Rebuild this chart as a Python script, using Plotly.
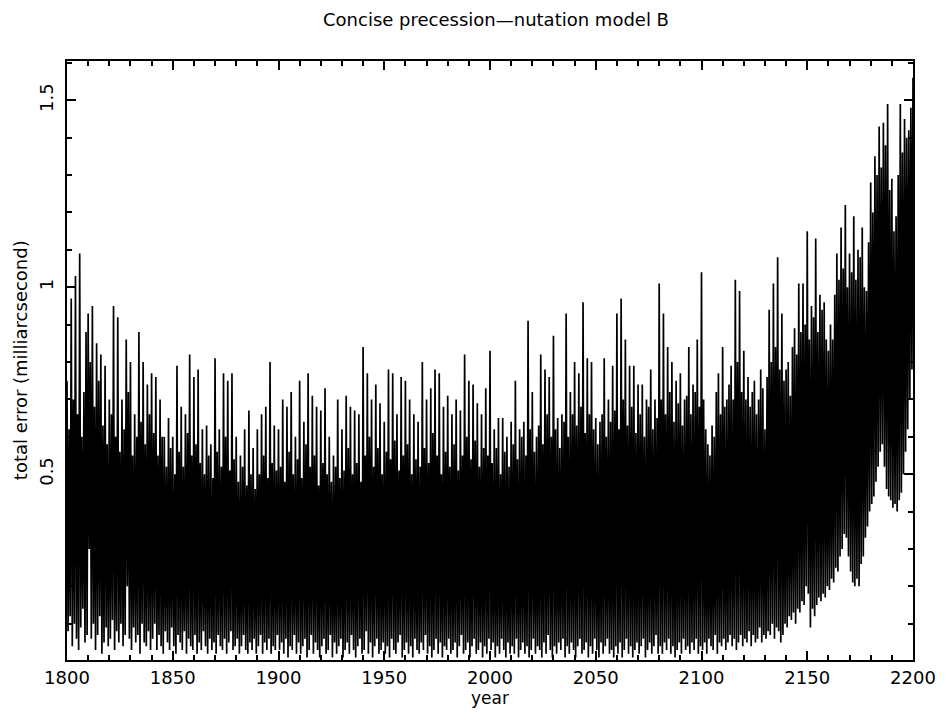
import plotly.graph_objects as go

# spike tops, one per year (1800 ... 2200)
peak_years = list(range(1800, 2201))
peaks = [
    0.75, 0.62, 0.97, 0.70, 1.03, 0.66, 1.09, 0.60, 0.72, 0.88,  # 1800
    0.93, 0.80, 0.95, 0.68, 0.85, 0.75, 0.82, 0.63, 0.79, 0.58,  # 1810
    0.70, 0.66, 0.95, 0.60, 0.92, 0.56, 0.70, 0.62, 0.86, 0.72,  # 1820
    0.80, 0.55, 0.66, 0.60, 0.88, 0.64, 0.80, 0.58, 0.74, 0.66,  # 1830
    0.77, 0.61, 0.76, 0.55, 0.70, 0.60, 0.60, 0.52, 0.65, 0.57,  # 1840
    0.60, 0.50, 0.79, 0.56, 0.68, 0.52, 0.66, 0.61, 0.82, 0.55,  # 1850
    0.76, 0.58, 0.78, 0.53, 0.62, 0.50, 0.63, 0.55, 0.58, 0.49,  # 1860
    0.81, 0.56, 0.62, 0.52, 0.77, 0.60, 0.75, 0.51, 0.77, 0.54,  # 1870
    0.60, 0.48, 0.55, 0.52, 0.62, 0.47, 0.67, 0.50, 0.57, 0.46,  # 1880
    0.62, 0.50, 0.66, 0.55, 0.68, 0.49, 0.80, 0.53, 0.63, 0.51,  # 1890
    0.62, 0.52, 0.70, 0.48, 0.68, 0.56, 0.72, 0.50, 0.60, 0.54,  # 1900
    0.75, 0.49, 0.64, 0.58, 0.77, 0.52, 0.71, 0.55, 0.68, 0.47,  # 1910
    0.67, 0.53, 0.73, 0.50, 0.60, 0.48, 0.55, 0.52, 0.70, 0.49,  # 1920
    0.62, 0.51, 0.71, 0.57, 0.68, 0.50, 0.67, 0.53, 0.66, 0.48,  # 1930
    0.84, 0.55, 0.77, 0.60, 0.70, 0.52, 0.74, 0.57, 0.69, 0.50,  # 1940
    0.64, 0.56, 0.78, 0.54, 0.77, 0.59, 0.66, 0.51, 0.76, 0.55,  # 1950
    0.75, 0.58, 0.70, 0.50, 0.66, 0.54, 0.64, 0.52, 0.80, 0.57,  # 1960
    0.70, 0.53, 0.73, 0.61, 0.78, 0.55, 0.77, 0.50, 0.68, 0.56,  # 1970
    0.71, 0.52, 0.66, 0.58, 0.70, 0.51, 0.67, 0.55, 0.82, 0.60,  # 1980
    0.75, 0.54, 0.74, 0.59, 0.69, 0.52, 0.66, 0.57, 0.73, 0.55,  # 1990
    0.83, 0.53, 0.62, 0.57, 0.65, 0.50, 0.65, 0.56, 0.60, 0.52,  # 2000
    0.64, 0.58, 0.75, 0.54, 0.62, 0.60, 0.64, 0.55, 0.91, 0.62,  # 2010
    0.72, 0.56, 0.60, 0.63, 0.82, 0.58, 0.78, 0.66, 0.76, 0.60,  # 2020
    0.87, 0.62, 0.65, 0.57, 0.66, 0.64, 0.93, 0.60, 0.72, 0.66,  # 2030
    0.80, 0.63, 0.77, 0.68, 0.96, 0.61, 0.81, 0.66, 0.80, 0.62,  # 2040
    0.65, 0.58, 0.64, 0.66, 0.81, 0.60, 0.70, 0.64, 0.79, 0.67,  # 2050
    0.93, 0.62, 0.97, 0.70, 0.86, 0.63, 0.79, 0.68, 0.79, 0.61,  # 2060
    0.74, 0.66, 0.74, 0.60, 0.70, 0.68, 0.78, 0.62, 0.70, 0.65,  # 2070
    1.01, 0.70, 0.93, 0.66, 0.84, 0.72, 0.80, 0.64, 0.75, 0.69,  # 2080
    0.77, 0.63, 0.70, 0.71, 0.84, 0.66, 0.74, 0.72, 0.86, 0.68,  # 2090
    1.04, 0.70, 0.62, 0.58, 0.55, 0.63, 0.60, 0.72, 0.77, 0.66,  # 2100
    0.84, 0.68, 0.70, 0.74, 0.79, 0.70, 1.02, 0.80, 0.99, 0.72,  # 2110
    0.83, 0.70, 0.76, 0.68, 0.72, 0.75, 0.66, 0.70, 0.78, 0.73,  # 2120
    0.62, 0.76, 0.94, 0.80, 1.01, 0.84, 1.08, 0.78, 0.93, 0.75,  # 2130
    0.78, 0.80, 0.71, 0.84, 0.89, 0.82, 1.01, 0.88, 1.01, 0.90,  # 2140
    1.15, 0.86, 0.95, 0.92, 1.13, 0.88, 0.98, 0.94, 0.96, 0.86,  # 2150
    0.83, 0.90, 0.86, 0.98, 1.09, 1.02, 1.16, 1.05, 1.22, 1.00,  # 2160
    1.09, 1.04, 1.19, 1.02, 1.10, 1.08, 1.16, 1.00, 0.99, 1.12,  # 2170
    1.28, 1.20, 1.35, 1.30, 1.43, 1.32, 1.44, 1.38, 1.49, 1.26,  # 2180
    1.29, 1.15, 1.19, 1.30, 1.49, 1.36, 1.45, 1.40, 1.42, 1.48,  # 2190
    1.56,
]

# spike bottoms, half a year later (1800.5 ... 2199.5)
trough_years = [y + 0.5 for y in range(1800, 2200)]
troughs = [
    0.08, 0.12, 0.04, 0.10, 0.06, 0.03, 0.09, 0.14, 0.05, 0.07,  # 1800
    0.30, 0.06, 0.10, 0.03, 0.07, 0.12, 0.02, 0.05, 0.09, 0.04,  # 1810
    0.06, 0.11, 0.03, 0.08, 0.05, 0.10, 0.04, 0.07, 0.20, 0.06,  # 1820
    0.03, 0.09, 0.05, 0.07, 0.02, 0.10, 0.05, 0.04, 0.08, 0.03,  # 1830
    0.06, 0.10, 0.03, 0.07, 0.04, 0.02, 0.08, 0.05, 0.03, 0.09,  # 1840
    0.04, 0.02, 0.07, 0.05, 0.03, 0.08, 0.02, 0.06, 0.04, 0.03,  # 1850
    0.07, 0.02, 0.05, 0.03, 0.08, 0.04, 0.02, 0.06, 0.03, 0.05,  # 1860
    0.02, 0.07, 0.04, 0.03, 0.06, 0.02, 0.05, 0.08, 0.03, 0.04,  # 1870
    0.06, 0.02, 0.04, 0.07, 0.03, 0.02, 0.05, 0.03, 0.06, 0.02,  # 1880
    0.04, 0.07, 0.02, 0.05, 0.03, 0.06, 0.02, 0.04, 0.03, 0.07,  # 1890
    0.03, 0.05, 0.02, 0.06, 0.01, 0.04, 0.03, 0.07, 0.02, 0.05,  # 1900
    0.02, 0.04, 0.06, 0.01, 0.03, 0.07, 0.02, 0.05, 0.03, 0.01,  # 1910
    0.04, 0.06, 0.02, 0.03, 0.07, 0.01, 0.05, 0.02, 0.04, 0.06,  # 1920
    0.01, 0.03, 0.05, 0.02, 0.07, 0.03, 0.01, 0.04, 0.06, 0.02,  # 1930
    0.03, 0.08, 0.02, 0.05, 0.01, 0.04, 0.06, 0.02, 0.03, 0.05,  # 1940
    0.02, 0.04, 0.01, 0.06, 0.03, 0.02, 0.05, 0.07, 0.01, 0.03,  # 1950
    0.05, 0.02, 0.04, 0.01, 0.06, 0.03, 0.02, 0.05, 0.03, 0.07,  # 1960
    0.02, 0.04, 0.01, 0.03, 0.06, 0.02, 0.05, 0.01, 0.04, 0.03,  # 1970
    0.06, 0.02, 0.03, 0.05, 0.01, 0.04, 0.07, 0.02, 0.03, 0.05,  # 1980
    0.01, 0.04, 0.06, 0.02, 0.03, 0.05, 0.01, 0.04, 0.02, 0.06,  # 1990
    0.03, 0.05, 0.01, 0.04, 0.02, 0.06, 0.03, 0.01, 0.05, 0.02,  # 2000
    0.04, 0.02, 0.06, 0.01, 0.03, 0.05, 0.02, 0.04, 0.01, 0.03,  # 2010
    0.06, 0.02, 0.04, 0.03, 0.01, 0.05, 0.02, 0.07, 0.03, 0.01,  # 2020
    0.04, 0.02, 0.05, 0.03, 0.06, 0.01, 0.04, 0.02, 0.05, 0.03,  # 2030
    0.01, 0.04, 0.06, 0.02, 0.03, 0.05, 0.01, 0.04, 0.02, 0.06,  # 2040
    0.03, 0.01, 0.05, 0.02, 0.04, 0.06, 0.02, 0.03, 0.01, 0.04,  # 2050
    0.02, 0.05, 0.01, 0.03, 0.06, 0.02, 0.04, 0.01, 0.03, 0.05,  # 2060
    0.02, 0.04, 0.06, 0.01, 0.03, 0.05, 0.02, 0.04, 0.07, 0.02,  # 2070
    0.04, 0.02, 0.05, 0.03, 0.06, 0.02, 0.04, 0.01, 0.03, 0.05,  # 2080
    0.02, 0.06, 0.03, 0.04, 0.02, 0.05, 0.03, 0.06, 0.02, 0.04,  # 2090
    0.03, 0.05, 0.02, 0.06, 0.04, 0.03, 0.07, 0.02, 0.05, 0.04,  # 2100
    0.06, 0.03, 0.05, 0.07, 0.04, 0.06, 0.03, 0.05, 0.07, 0.04,  # 2110
    0.06, 0.05, 0.08, 0.04, 0.07, 0.05, 0.06, 0.09, 0.05, 0.07,  # 2120
    0.06, 0.08, 0.07, 0.10, 0.06, 0.09, 0.08, 0.05, 0.07, 0.10,  # 2130
    0.09, 0.12, 0.11, 0.13, 0.10, 0.14, 0.13, 0.16, 0.15, 0.20,  # 2140
    0.18, 0.09, 0.14, 0.12, 0.15, 0.17, 0.16, 0.18, 0.17, 0.20,  # 2150
    0.19, 0.22, 0.21, 0.25, 0.24, 0.28, 0.30, 0.34, 0.33, 0.28,  # 2160
    0.24, 0.21, 0.20, 0.22, 0.20, 0.26, 0.28, 0.33, 0.36, 0.40,  # 2170
    0.42, 0.44, 0.48, 0.52, 0.56, 0.58, 0.52, 0.46, 0.44, 0.43,  # 2180
    0.41, 0.42, 0.40, 0.43, 0.45, 0.50, 0.56, 0.62, 0.70, 0.78,  # 2190
]

xs, ys = [], []
for i in range(len(peaks)):
    xs.append(peak_years[i])
    ys.append(peaks[i])
    if i < len(troughs):
        xs.append(trough_years[i])
        ys.append(troughs[i])

fnt = "DejaVu Sans"

fig = go.Figure()
fig.add_trace(go.Scatter(x=xs, y=ys, mode='lines',
                         line=dict(color='black', width=1.7, simplify=False)))

fig.update_layout(
    width=948, height=724,
    margin=dict(l=67, r=23, t=61, b=64),
    plot_bgcolor='white', paper_bgcolor='white',
    showlegend=False,
    font=dict(family=fnt, color='black'),
    title=dict(text="Concise precession\u2014nutation model B",
               x=(67 + 925) / 2 / 948, xanchor='center',
               y=1 - 20 / 724, yanchor='middle',
               font=dict(size=18, family=fnt, color='black')),
    xaxis=dict(
        range=[1800, 2200], tick0=1800, dtick=50,
        showgrid=False, zeroline=False,
        showline=True, linecolor='black', linewidth=2, mirror='allticks',
        ticks='inside', ticklen=9, tickwidth=1.5, tickcolor='black',
        minor=dict(dtick=10, ticks='inside', ticklen=5, tickwidth=1.5,
                   tickcolor='black', showgrid=False),
        tickfont=dict(size=18, family=fnt),
    ),
    yaxis=dict(
        range=[0.003, 1.605],
        tickvals=[0.5, 1, 1.5], ticktext=['0.5', '1', '1.5'],
        showgrid=False, zeroline=False,
        showline=True, linecolor='black', linewidth=2, mirror='allticks',
        ticks='inside', ticklen=9, tickwidth=1.5, tickcolor='black',
        minor=dict(dtick=0.1, tick0=0, ticks='inside', ticklen=5, tickwidth=1.5,
                   tickcolor='black', showgrid=False),
        tickangle=-90, ticklabelstandoff=5,
        tickfont=dict(size=18, family=fnt),
    ),
    annotations=[
        dict(text='year', xref='paper', yref='paper', x=0.5, y=-38 / 599,
             xanchor='center', yanchor='middle', showarrow=False,
             font=dict(size=17, family=fnt)),
        dict(text='total error (milliarcsecond)', xref='paper', yref='paper',
             x=-47 / 858, y=0.5, xanchor='center', yanchor='middle',
             textangle=-90, showarrow=False, font=dict(size=18, family=fnt)),
    ],
)

fig.write_html("out.html", config={'displayModeBar': False},
               post_script="document.body.style.margin='0';")
